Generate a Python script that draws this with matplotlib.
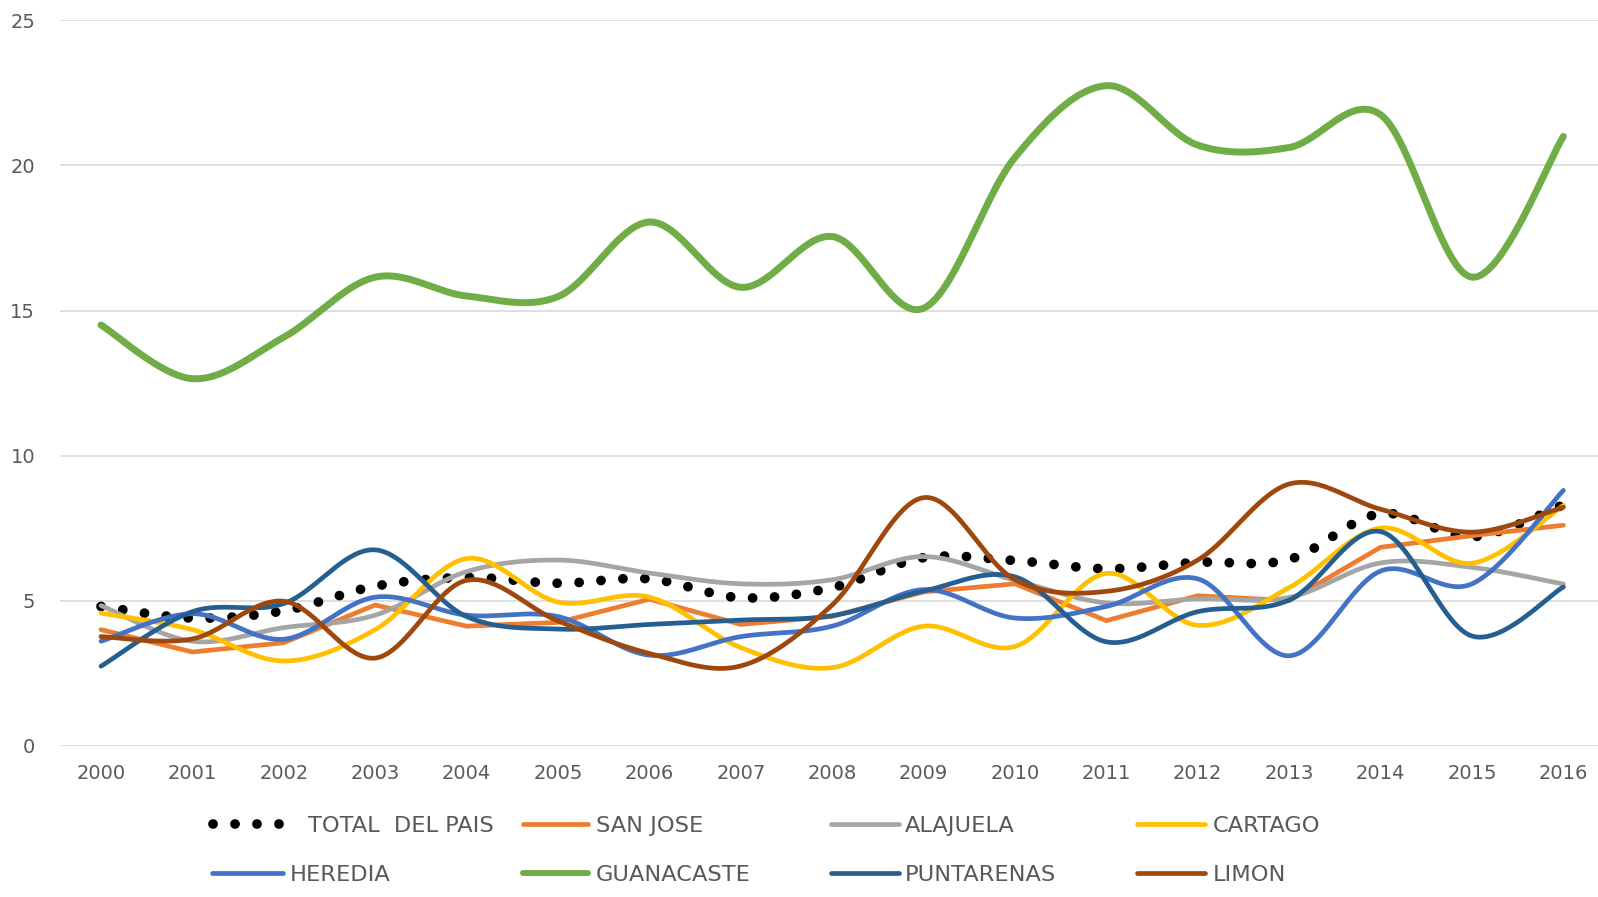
import numpy as np
import matplotlib
matplotlib.use("Agg")
import matplotlib.pyplot as plt
from matplotlib.lines import Line2D

years = list(range(2000, 2017))
series_names = ["TOTAL  DEL PAIS", "SAN JOSE", "ALAJUELA", "CARTAGO",
                "HEREDIA", "GUANACASTE", "PUNTARENAS", "LIMON"]

total = [4.8, 4.4, 4.65, 5.5, 5.8, 5.6, 5.75, 5.1, 5.45, 6.48, 6.38, 6.1, 6.32, 6.42, 8.0, 7.2, 8.3]
san_jose = [4.0, 3.23, 3.55, 4.85, 4.12, 4.25, 5.05, 4.18, 4.46, 5.3, 5.58, 4.31, 5.17, 5.0, 6.84, 7.24, 7.6]
alajuela = [4.83, 3.6, 4.07, 4.5, 6.0, 6.4, 5.95, 5.58, 5.72, 6.52, 5.7, 4.92, 5.06, 5.11, 6.3, 6.15, 5.57]
cartago = [4.57, 4.0, 2.92, 4.0, 6.45, 4.95, 5.12, 3.38, 2.69, 4.12, 3.42, 5.94, 4.15, 5.45, 7.5, 6.29, 8.28]
heredia = [3.6, 4.55, 3.67, 5.12, 4.5, 4.45, 3.12, 3.76, 4.12, 5.38, 4.4, 4.8, 5.75, 3.1, 6.02, 5.58, 8.8]
guanacaste = [14.5, 12.65, 14.08, 16.15, 15.5, 15.48, 18.05, 15.8, 17.55, 15.08, 20.28, 22.75, 20.7, 20.62, 21.75, 16.15, 21.0]
puntarenas = [2.74, 4.62, 4.9, 6.75, 4.45, 4.02, 4.18, 4.33, 4.48, 5.33, 5.82, 3.58, 4.62, 5.02, 7.38, 3.78, 5.47]
limon = [3.76, 3.68, 4.98, 3.02, 5.7, 4.3, 3.18, 2.75, 4.85, 8.55, 5.72, 5.32, 6.4, 9.02, 8.15, 7.36, 8.22]

y_ticks = [0, 5, 10, 15, 20, 25]

data = [total, san_jose, alajuela, cartago, heredia, guanacaste, puntarenas, limon]
colors = ["#000000", "#ED7D31", "#A5A5A5", "#FFC000", "#4472C4", "#70AD47", "#255E91", "#9E480E"]
smooth = [True, False, True, True, True, True, True, True]
widths = [7.0, 3.4, 3.4, 3.4, 3.4, 5.0, 3.4, 3.4]


def bezier_smooth(x, y, n=40):
    x = np.asarray(x, float)
    y = np.asarray(y, float)
    P = np.column_stack([x, y])
    out = []
    m = len(P)
    for i in range(m - 1):
        p0 = P[i - 1] if i > 0 else P[i]
        p1 = P[i]
        p2 = P[i + 1]
        p3 = P[i + 2] if i + 2 < m else P[i + 1]
        c1 = p1 + (p2 - p0) / 6.0
        c2 = p2 - (p3 - p1) / 6.0
        t = np.linspace(0, 1, n, endpoint=(i == m - 2))[:, None]
        seg = ((1 - t) ** 3) * p1 + 3 * ((1 - t) ** 2) * t * c1 + 3 * (1 - t) * t ** 2 * c2 + t ** 3 * p2
        out.append(seg)
    arr = np.vstack(out)
    return arr[:, 0], arr[:, 1]


fig = plt.figure(figsize=(15.98, 8.97), dpi=100)
ax = fig.add_axes([60 / 1598, (897 - 745.7) / 897, 1 - 60 / 1598, (745.7 - 20.4) / 897])

txt_color = "#595959"
for s in ax.spines.values():
    s.set_visible(False)
ax.set_ylim(0, 25)
ax.set_xlim(2000 - 41 / 91.4, 2016 + 34.6 / 91.4)
ax.set_yticks(y_ticks)
ax.set_xticks(years)
ax.set_xticklabels([str(y) for y in years])
ax.tick_params(axis="both", length=0, labelsize=14, labelcolor=txt_color)
ax.tick_params(axis="y", pad=18)
ax.tick_params(axis="x", pad=13.5)
ax.grid(axis="y", color="#D9D9D9", linewidth=1.2)
ax.set_axisbelow(True)

for i, (vals, c, sm, lw) in enumerate(zip(data, colors, smooth, widths)):
    if sm:
        xs, ys = bezier_smooth(years, vals)
    else:
        xs, ys = np.asarray(years, float), np.asarray(vals, float)
    if i == 0:
        ax.plot(xs, ys, color=c, linewidth=lw, linestyle=(0, (0.01, 2.25)),
                dash_capstyle="round", zorder=2 + i)
    else:
        ax.plot(xs, ys, color=c, linewidth=lw, solid_capstyle="round",
                solid_joinstyle="round", zorder=2 + i)

# legend (Excel-like fixed columns)
W, H = 1598.0, 897.0
handle_x = [(209, 286), (520, 591), (828, 902), (1134, 1208)]
row_y = [824, 873]
text_x = [[308, 596, 905, 1213], [290, 596, 905, 1213]]
for i, name in enumerate(series_names):
    r, cidx = divmod(i, 4)
    x0, x1 = handle_x[cidx]
    if i != 0:
        x0 += 3
        x1 -= 3
    y = 1 - row_y[r] / H
    if i == 0:
        ln = Line2D([x0 / W + 4 / W, x1 / W], [y, y], transform=fig.transFigure, color=colors[i],
                    linewidth=widths[i], linestyle=(0, (0.01, 2.25)), dash_capstyle="round")
    else:
        ln = Line2D([x0 / W, x1 / W], [y, y], transform=fig.transFigure, color=colors[i],
                    linewidth=widths[i] if i != 5 else 4.3, solid_capstyle="round")
    fig.add_artist(ln)
    fig.text(text_x[r][cidx] / W, y, name, fontsize=16.2, color=txt_color,
             ha="left", va="center_baseline")

fig.savefig("out.png", dpi=100)
